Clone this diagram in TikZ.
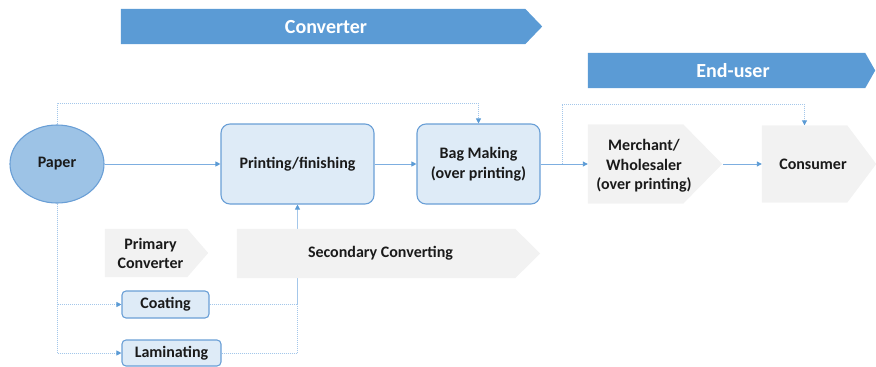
\documentclass[tikz,border=0pt]{standalone}
\usepackage{fontspec}
\setmainfont{Carlito}
\usetikzlibrary{shapes.geometric,arrows.meta,backgrounds}

\definecolor{bandblue}{HTML}{5B9BD5}
\definecolor{boxfill}{HTML}{DEEBF7}
\definecolor{boxline}{HTML}{6A9FD6}
\definecolor{paperfill}{HTML}{9DC3E6}
\definecolor{chevgray}{HTML}{F2F2F2}
\definecolor{lineblue}{HTML}{7DAEE0}
\definecolor{dotblue}{HTML}{A4C7EA}
\definecolor{textc}{HTML}{1A1A1A}

% pentagon-shaped band: a named body node plus a pointed fill
\newcommand{\arrowband}[7]{%
  \node[minimum width=#4pt, minimum height=#5pt, inner sep=0pt] (#1) at (#2,#3) {};
  \fill[#7] (#1.north west) -- (#1.north east) -- ([xshift=#6pt]#1.east)
    -- (#1.south east) -- (#1.south west) -- cycle;
}

\begin{document}
\begin{tikzpicture}[x=1pt,y=-1pt,
  txt/.style={font=\bfseries\fontsize{16}{19.5}\selectfont, text=textc, align=center, inner sep=0pt},
  bandtxt/.style={font=\bfseries\fontsize{20}{24}\selectfont, text=white, inner sep=0pt},
  procbox/.style={txt, draw=boxline, line width=1.1pt, fill=boxfill, rounded corners=9pt},
  smallbox/.style={txt, draw=boxline, line width=1.1pt, fill=boxfill, rounded corners=4pt},
  tip/.style={-{Triangle[length=5pt,width=5pt,color=bandblue]}},
  flow/.style={draw=lineblue, line width=0.9pt},
  feed/.style={draw=dotblue, line width=1pt, dash pattern=on 1pt off 1pt},
]
\useasboundingbox (0,0) rectangle (876,367);

% phase bands
\arrowband{converterband}{323}{26.5}{404}{35}{17}{bandblue}
\node[bandtxt] (convertertext) at (326,27) {Converter};
\arrowband{enduserband}{726.5}{70.5}{277}{35}{10}{bandblue}
\node[bandtxt] (endusertext) at (733,71) {End-user};

% process nodes
\node[txt, ellipse, draw=boxline, line width=1.1pt, fill=paperfill,
      minimum width=94pt, minimum height=78pt] (paper) at (57,164) {Paper};
\node[procbox, minimum width=153pt, minimum height=80pt] (printing) at (297.5,164) {Printing/finishing};
\node[procbox, minimum width=123pt, minimum height=80pt] (bag) at (478.5,164) {Bag Making\\(over printing)};
\node[smallbox, minimum width=87pt, minimum height=27pt] (coating) at (165.5,304.5) {Coating};
\node[smallbox, minimum width=99pt, minimum height=26pt] (laminating) at (171.5,353) {Laminating};

% stage bands
\arrowband{merchant}{635.5}{164}{95}{79}{39}{chevgray}
\node[txt] (merchanttext) at (644,166) {Merchant/\\Wholesaler\\(over printing)};
\arrowband{consumer}{804.5}{164}{85}{77}{29}{chevgray}
\node[txt] (consumertext) at (813,164) {Consumer};
\arrowband{primary}{146}{253}{82}{48}{21}{chevgray}
\node[txt] (primarytext) at (150.5,253.5) {Primary\\Converter};
\arrowband{secondary}{376}{253.5}{278}{49}{25}{chevgray}
\node[txt] (secondarytext) at (380.5,253.5) {Secondary Converting};

\coordinate (split) at (562,164);

\begin{scope}[on background layer]
  % main flow
  \draw[flow, tip] (paper) -- (printing);
  \draw[flow, tip] (printing) -- (bag);
  \draw[flow] (bag.east) -- (split);
  \draw[flow, tip] (split) -- (merchant.west);
  \draw[flow, tip] ([xshift=40pt]merchant.east) -- (consumer.west);
  % bypass routes
  \draw[feed, tip] (paper.north) -- ++(0,-21) -| (bag.north);
  \draw[feed, tip] (split) -- ++(0,-60) -| (consumer.north);
  \draw[feed, tip] (paper.south) |- (coating.west);
  \draw[feed, tip] (paper.south) |- (laminating.west);
  \draw[feed] (coating.east) -| (printing.south);
  \draw[feed, tip] (laminating.east) -| (printing.south);
\end{scope}
\end{tikzpicture}
\end{document}
